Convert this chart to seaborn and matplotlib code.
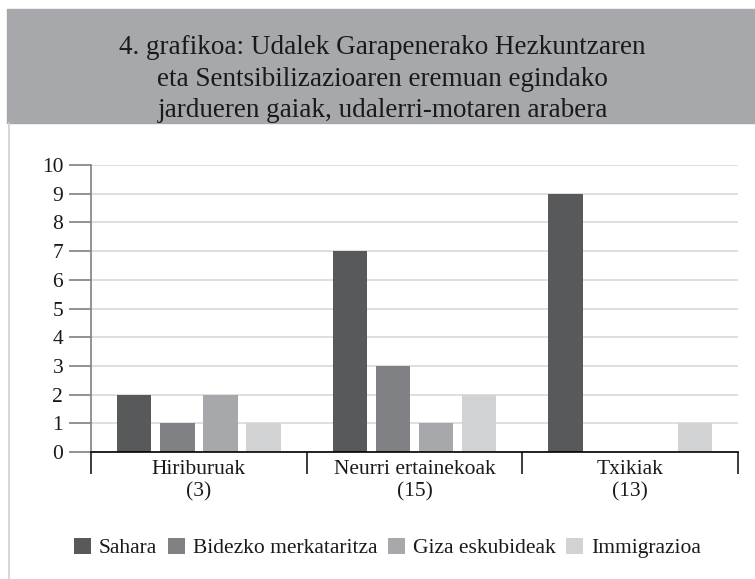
import numpy as np
import pandas as pd
import matplotlib.pyplot as plt
import seaborn as sns
from matplotlib.patches import Rectangle, Patch
from matplotlib.lines import Line2D

# data
categories = ["Hiriburuak\n(3)", "Neurri ertainekoak\n(15)", "Txikiak\n(13)"]
series = ["Sahara", "Bidezko merkataritza", "Giza eskubideak", "Immigrazioa"]
sahara = [2, 7, 9]
bidezko = [1, 3, 0]
giza = [2, 1, 0]
immigrazioa = [1, 2, 1]
colors = ["#58595b", "#808184", "#a7a8ab", "#d1d2d4"]
title = ("4. grafikoa: Udalek Garapenerako Hezkuntzaren\n"
         "eta Sentsibilizazioaren eremuan egindako\n"
         "jardueren gaiak, udalerri-motaren arabera")

rows = []
for name, vals in zip(series, [sahara, bidezko, giza, immigrazioa]):
    for cat, v in zip(categories, vals):
        rows.append({"cat": cat, "serie": name, "value": v})
df = pd.DataFrame(rows)

sns.set_style("white")
plt.rcParams["font.family"] = ["Liberation Serif", "DejaVu Serif"]

W, H = 755, 579
fig = plt.figure(figsize=(W / 100, H / 100), dpi=100)

# header box and frame line
fig.patches.append(Rectangle((7 / W, 1 - 123 / H), 1, (123 - 9) / H,
                             transform=fig.transFigure, color="#a7a8ab", zorder=0))
fig.lines.append(Line2D([8.5 / W, 8.5 / W], [0, 1 - 123 / H], transform=fig.transFigure,
                        color="#cfcfcf", lw=1.2))
fig.text(0.5 + 5 / W, 1 - 79 / H, title, ha="center", va="center",
         fontsize=19.5, color="#1a1a1a", linespacing=1.35)

ax = fig.add_axes([91 / W, 1 - 452 / H, (738 - 91) / W, (452 - 165) / H])
sns.barplot(data=df, x="cat", y="value", hue="serie", order=categories,
            hue_order=series, palette=colors, width=0.8, gap=0.2,
            saturation=1, linewidth=0, ax=ax, legend=False)

ax.set_ylim(0, 10)
ax.set_xlim(-0.5, 2.5)
ax.set_yticks(range(0, 11))
ax.yaxis.grid(True, color="#d9d9d9", lw=1.2)
ax.set_axisbelow(True)
for s in ["top", "right"]:
    ax.spines[s].set_visible(False)
ax.spines["left"].set_color("#808080")
ax.spines["left"].set_linewidth(1.2)
ax.spines["bottom"].set_color("black")
ax.spines["bottom"].set_linewidth(1.2)

ax.tick_params(axis="y", length=16, width=1.2, color="#808080", pad=4,
               labelsize=15.5, labelcolor="#1a1a1a", left=True)
ax.set_xticks([-0.5, 0.5, 1.5, 2.5])
ax.set_xticklabels([])
ax.tick_params(axis="x", which="major", length=16, width=1.2, color="#1a1a1a", bottom=True)
ax.set_xticks([0, 1, 2], minor=True)
ax.set_xticklabels(categories, minor=True, fontsize=15.5, color="#1a1a1a", linespacing=1.2)
ax.tick_params(axis="x", which="minor", length=0, pad=6)
ax.set_xlabel("")
ax.set_ylabel("")

handles = [Patch(facecolor=c, edgecolor="none") for c in colors]
fig.legend(handles, series, loc="center", bbox_to_anchor=(0.5 + 10 / W, 1 - 548 / H),
           ncol=4, frameon=False, fontsize=15.5, handlelength=0.8, handleheight=0.8,
           handletextpad=0.35, columnspacing=0.5, labelcolor="#1a1a1a")

fig.savefig("out.png", dpi=100)
